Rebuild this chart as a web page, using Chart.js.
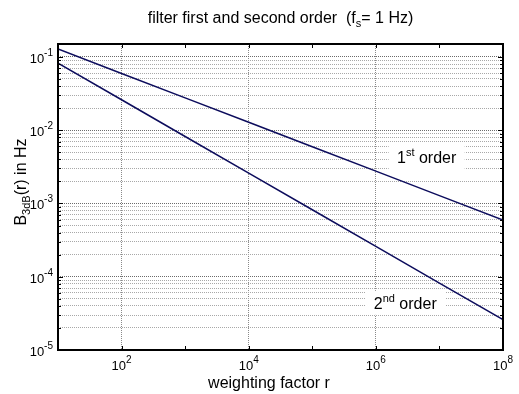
<!DOCTYPE html>
<html>
<head>
<meta charset="utf-8">
<script src="https://cdn.jsdelivr.net/npm/chart.js@4.4.0/dist/chart.umd.min.js"></script>
<style>
  body { margin: 0; background: #fff; }
  #wrap { width: 519px; height: 394px; position: relative; }
</style>
</head>
<body>
<div id="wrap"><canvas id="myChart"></canvas></div>
<script>
const lineColor = '#0c0c5c';
const fontFamily = '"Liberation Sans", Arial, sans-serif';

// weighting factor r and the two 3 dB bandwidths
const rValues = [1e1, 1e2, 1e3, 1e4, 1e5, 1e6, 1e7, 1e8];
const firstOrder = [0.128, 0.0594, 0.0276, 0.0128, 0.00594, 0.00276, 0.00128, 0.000594];
const secondOrder = [0.082, 0.026, 0.0082, 0.0026, 0.00082, 0.00026, 0.000082, 0.000026];

// axis ticks (exponents of 10)
const xTickExps = [1, 2, 3, 4, 5, 6, 7, 8];
const xLabelExps = [2, 4, 6, 8];
const yTickExps = [-5, -4, -3, -2, -1];
const xMin = 1e1, xMax = 1e8;
const yMin = 1e-5, yMax = 0.15;

const xTickVals = xTickExps.map(e => Math.pow(10, e));
const yTickVals = [];
yTickExps.forEach(e => {
  const top = e === -1 ? 1 : 9;
  for (let m = 1; m <= top; m++) yTickVals.push(Number((m * Math.pow(10, e)).toPrecision(3)));
});

function isDecade(v) {
  const l = Math.log10(v);
  return Math.abs(l - Math.round(l)) < 1e-6;
}

// draw text pieces with sub/superscripts, y = baseline
function drawRich(ctx, parts, x, y, align) {
  let total = 0;
  parts.forEach(p => {
    ctx.font = p.size + 'px ' + fontFamily;
    p.w = ctx.measureText(p.t).width;
    total += p.w;
  });
  let cx = align === 'right' ? x - total : align === 'center' ? x - total / 2 : x;
  ctx.textAlign = 'left';
  ctx.textBaseline = 'alphabetic';
  parts.forEach(p => {
    ctx.font = p.size + 'px ' + fontFamily;
    ctx.fillText(p.t, cx, y + (p.dy || 0));
    cx += p.w;
  });
}

const decorations = {
  id: 'decorations',
  beforeDatasetsDraw(chart) {
    const ctx = chart.ctx;
    const xs = chart.scales.x, ys = chart.scales.y;
    // white boxes behind the line labels
    const notes = [
      {x: 6.3e6, y: 0.0043, parts: [{t: '1', size: 16}, {t: 'st', size: 11, dy: -7}, {t: ' order', size: 16}], w: 76, h: 24},
      {x: 2.9e6, y: 0.000044, parts: [{t: '2', size: 16}, {t: 'nd', size: 11, dy: -7}, {t: ' order', size: 16}], w: 80, h: 24}
    ];
    ctx.save();
    notes.forEach(n => {
      const px = xs.getPixelForValue(n.x), py = ys.getPixelForValue(n.y);
      ctx.fillStyle = '#fff';
      ctx.fillRect(px - n.w / 2, py - n.h / 2, n.w, n.h);
      ctx.fillStyle = '#000';
      drawRich(ctx, n.parts, px, py + 6, 'center');
    });
    ctx.restore();
  },
  afterDraw(chart) {
    const ctx = chart.ctx;
    const a = chart.chartArea;
    const xs = chart.scales.x, ys = chart.scales.y;
    ctx.save();
    // inward tick marks
    ctx.strokeStyle = '#000';
    ctx.lineWidth = 1;
    ctx.beginPath();
    xTickVals.forEach(v => {
      const px = Math.round(xs.getPixelForValue(v)) + 0.5;
      ctx.moveTo(px, a.bottom); ctx.lineTo(px, a.bottom - 4);
      ctx.moveTo(px, a.top); ctx.lineTo(px, a.top + 4);
    });
    yTickVals.forEach(v => {
      const py = Math.round(ys.getPixelForValue(v)) + 0.5;
      const len = isDecade(v) ? 5 : 3;
      ctx.moveTo(a.left, py); ctx.lineTo(a.left + len, py);
      ctx.moveTo(a.right, py); ctx.lineTo(a.right - len, py);
    });
    ctx.stroke();
    // frame
    ctx.lineWidth = 2;
    ctx.strokeRect(a.left, a.top, a.right - a.left, a.bottom - a.top);

    ctx.fillStyle = '#000';
    // tick labels
    xLabelExps.forEach(e => {
      const px = xs.getPixelForValue(Math.pow(10, e));
      drawRich(ctx, [{t: '10', size: 13}, {t: String(e), size: 10, dy: -7}], px, a.bottom + 20, 'center');
    });
    yTickExps.forEach(e => {
      const py = ys.getPixelForValue(Math.pow(10, e));
      drawRich(ctx, [{t: '10', size: 13}, {t: '-' + Math.abs(e), size: 10, dy: -7}], a.left - 5, py + 6, 'right');
    });
    // title
    drawRich(ctx, [
      {t: 'filter first and second order  (f', size: 16},
      {t: 's', size: 11, dy: 4},
      {t: '= 1 Hz)', size: 16}
    ], (a.left + a.right) / 2, 23, 'center');
    // x axis title
    drawRich(ctx, [{t: 'weighting factor r', size: 16}], 269, 388, 'center');
    // y axis title
    ctx.translate(26, 182);
    ctx.rotate(-Math.PI / 2);
    drawRich(ctx, [
      {t: 'B', size: 16},
      {t: '3dB', size: 11, dy: 4},
      {t: '(r) in Hz', size: 16}
    ], 0, 0, 'center');
    ctx.restore();
  }
};

const ctx = document.getElementById('myChart');
const data = {
  datasets: [
    {
      label: '1st order',
      data: rValues.map((r, i) => ({x: r, y: firstOrder[i]})),
      borderColor: lineColor,
      borderWidth: 1.5,
      pointRadius: 0,
    },
    {
      label: '2nd order',
      data: rValues.map((r, i) => ({x: r, y: secondOrder[i]})),
      borderColor: lineColor,
      borderWidth: 1.5,
      pointRadius: 0,
    }
  ]
};

new Chart(ctx, {
  type: 'line',
  data: data,
  options: {
    responsive: true,
    maintainAspectRatio: false,
    animation: false,
    layout: {
      padding: {top: 44, right: 16, left: 0, bottom: 0}
    },
    plugins: {
      legend: {display: false},
      title: {display: false},
      tooltip: {enabled: false}
    },
    scales: {
      x: {
        type: 'logarithmic',
        min: xMin,
        max: xMax,
        ticks: {display: false},
        afterBuildTicks: scale => { scale.ticks = xTickVals.map(v => ({value: v})); },
        afterFit: scale => { scale.height = 44; },
        grid: {
          drawTicks: false,
          lineWidth: 1,
          color: c => (c.tick && [1e2, 1e4, 1e6].includes(c.tick.value)) ? '#8a8a8a' : 'rgba(0,0,0,0)'
        },
        border: {display: false, dash: [1, 1]}
      },
      y: {
        type: 'logarithmic',
        min: yMin,
        max: yMax,
        ticks: {display: false},
        afterBuildTicks: scale => { scale.ticks = yTickVals.map(v => ({value: v})); },
        afterFit: scale => { scale.width = 58; },
        grid: {
          drawTicks: false,
          lineWidth: 1,
          color: c => (c.tick && isDecade(c.tick.value)) ? '#6a6a6a' : '#a8a8a8'
        },
        border: {display: false, dash: [1, 1]}
      }
    }
  },
  plugins: [decorations]
});
</script>
</body>
</html>
